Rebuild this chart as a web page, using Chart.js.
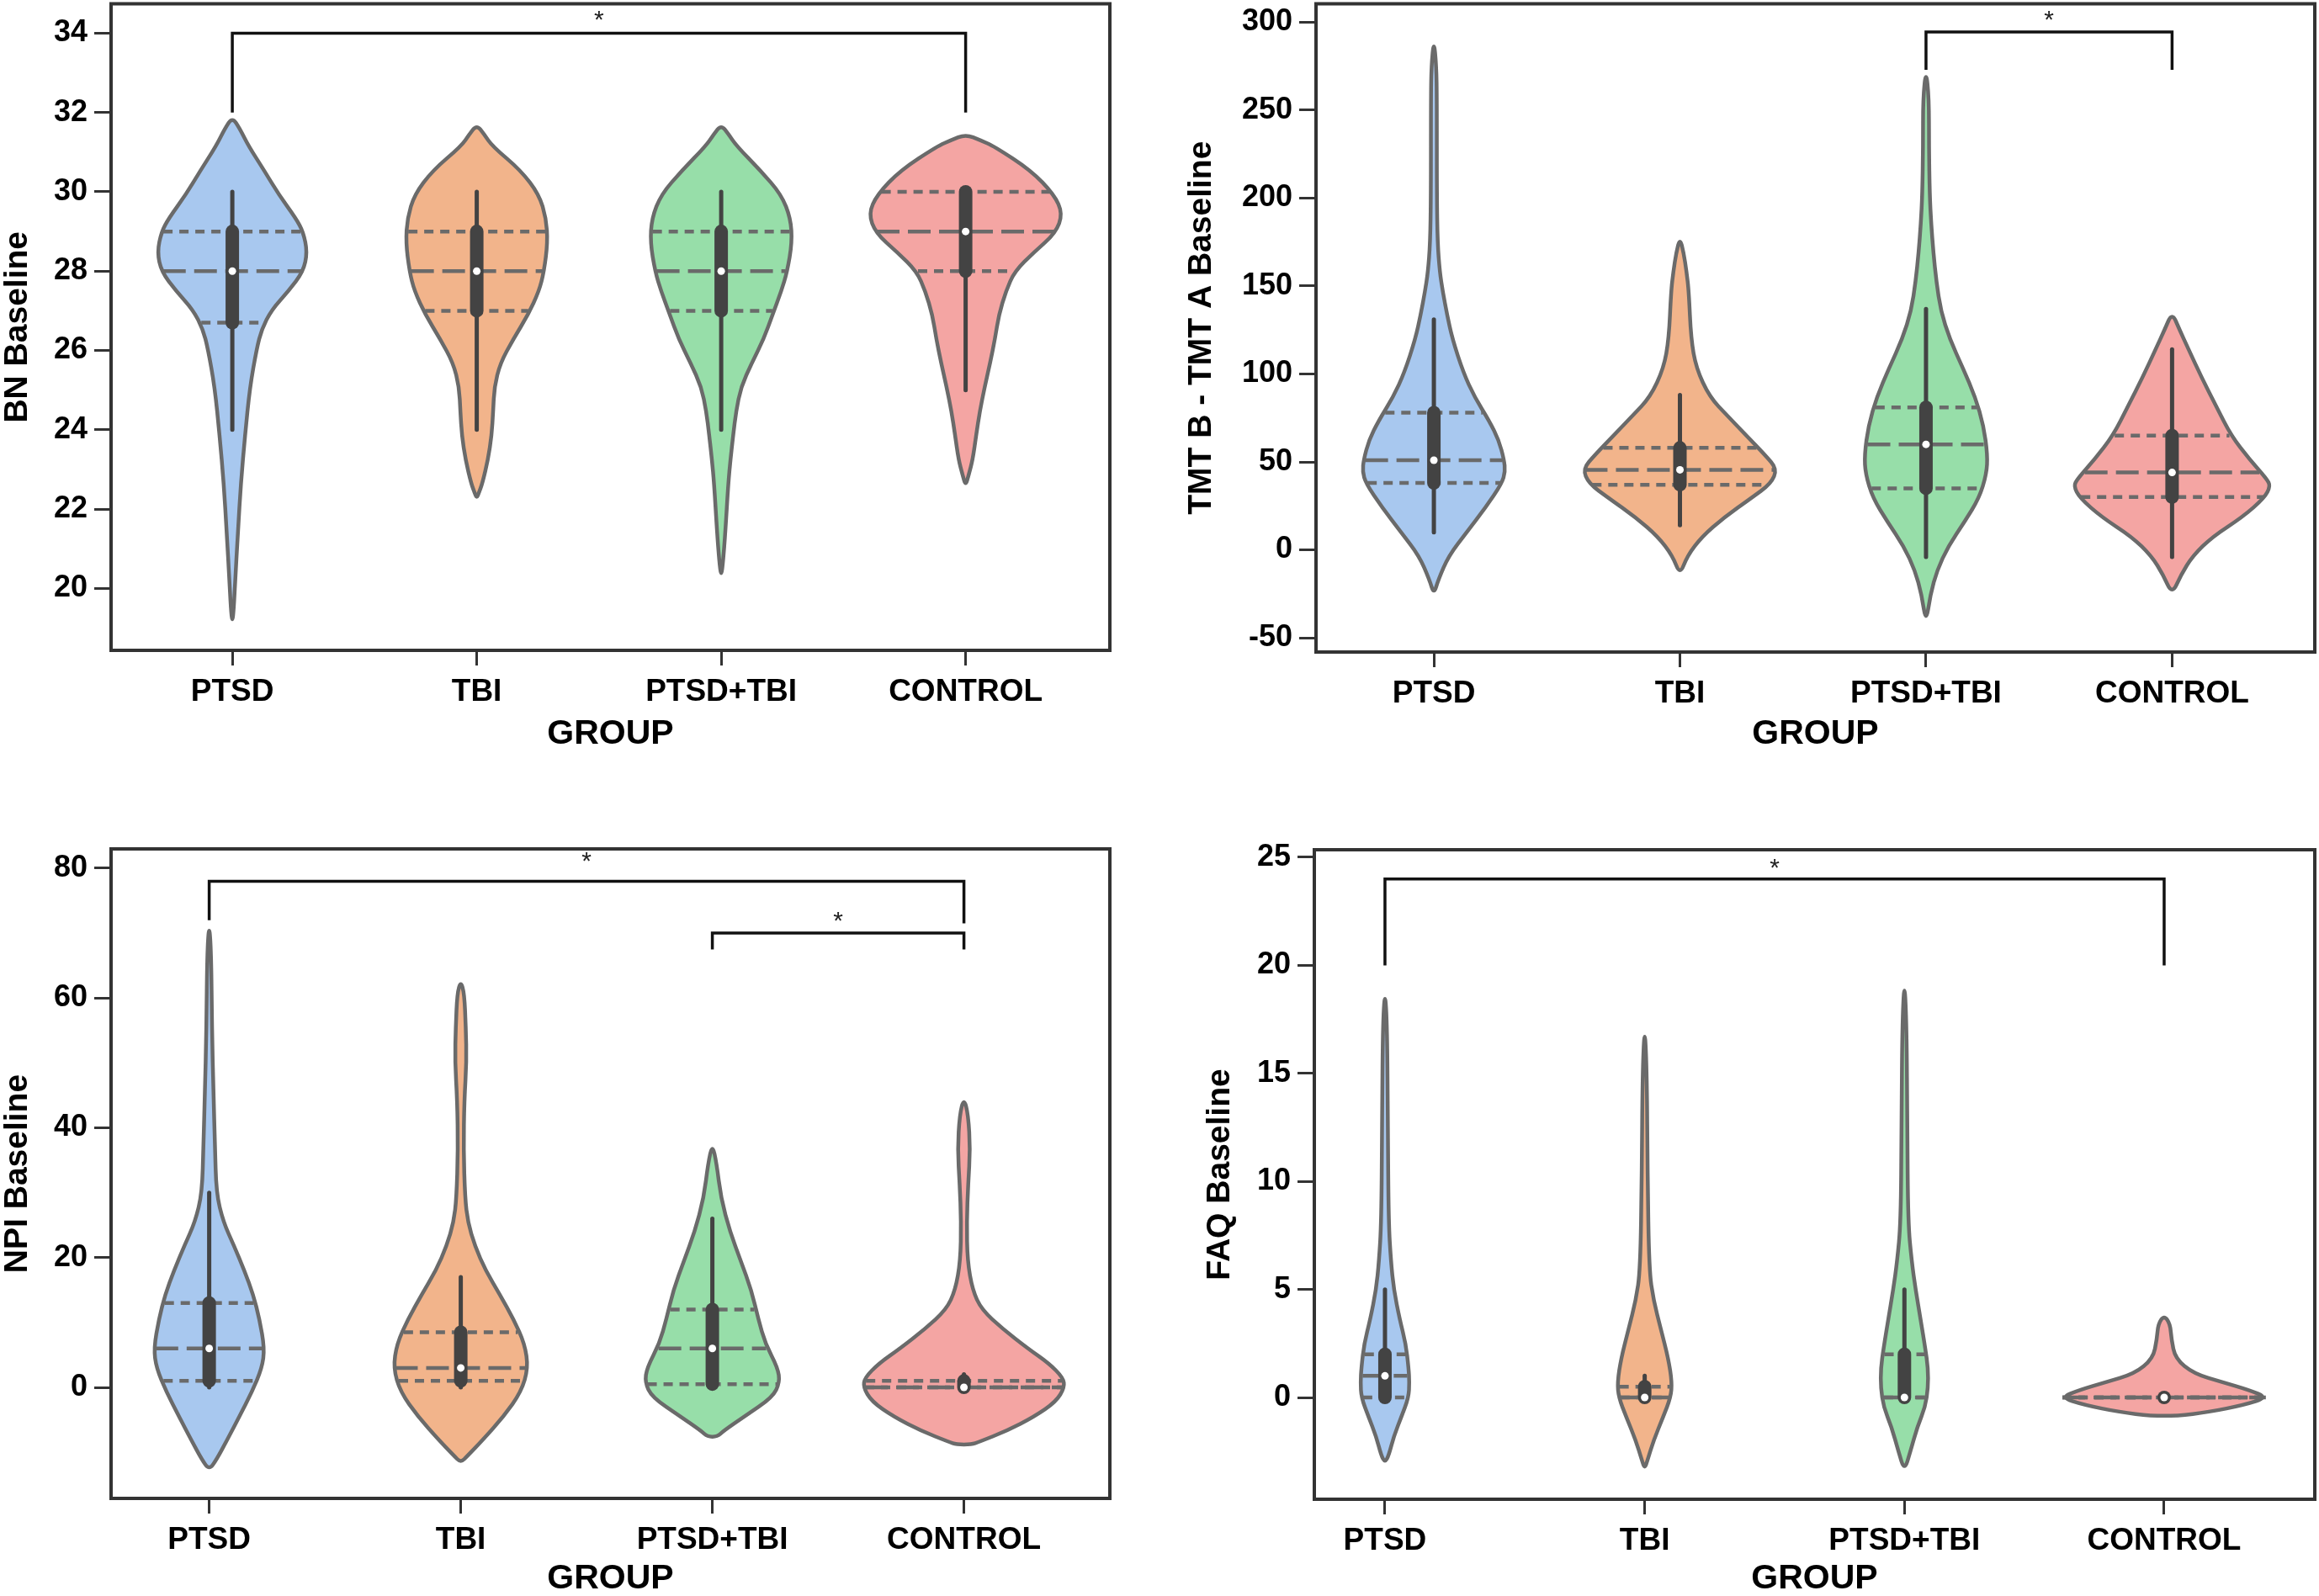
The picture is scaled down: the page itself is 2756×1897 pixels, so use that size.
<!DOCTYPE html>
<html><head><meta charset="utf-8">
<script src="https://cdn.jsdelivr.net/npm/chart.js@4.4.1/dist/chart.umd.min.js"></script>
<style>
html,body{margin:0;padding:0;background:#fff;}
body{width:2756px;height:1897px;position:relative;overflow:hidden;}
canvas{position:absolute;}
</style></head><body>
<canvas id="c1" width="1330" height="905" style="left:0px;top:0px"></canvas>
<canvas id="c2" width="1349" height="905" style="left:1407px;top:0px"></canvas>
<canvas id="c3" width="1330" height="930" style="left:0px;top:995px"></canvas>
<canvas id="c4" width="1327" height="930" style="left:1429px;top:995px"></canvas>
<script>
// ---------------- DATA ----------------
const groups = ['PTSD', 'TBI', 'PTSD+TBI', 'CONTROL'];
const groupPos = [0, 1, 2, 3];

// violin half-width profiles: [value, half width in category units], top to bottom
const bnProfiles = [
  [[31.88,0],[31.6,0.03],[31.15,0.067],[30.54,0.13],[29.93,0.19],[29.33,0.26],[28.99,0.29],[28.48,0.307],[27.99,0.29],[27.5,0.23],[27.02,0.16],[26.53,0.12],[26.05,0.10],[25.08,0.072],[23.86,0.052],[22.65,0.035],[21.43,0.023],[20.22,0.012],[19.5,0.006],[19.13,0]],
  [[31.69,0],[31.45,0.03],[31.15,0.064],[30.54,0.18],[29.93,0.255],[29.33,0.284],[28.72,0.29],[27.99,0.275],[27.5,0.255],[26.9,0.21],[26.29,0.15],[25.68,0.096],[25.08,0.072],[24.47,0.067],[23.86,0.061],[23.25,0.046],[22.65,0.023],[22.4,0.008],[22.28,0]],
  [[31.69,0],[31.45,0.03],[31.15,0.064],[30.54,0.16],[29.93,0.246],[29.33,0.284],[28.72,0.29],[27.99,0.27],[27.5,0.246],[26.9,0.21],[26.29,0.174],[25.68,0.125],[25.08,0.081],[24.47,0.061],[23.86,0.049],[23.25,0.038],[22.65,0.029],[21.43,0.017],[20.7,0.008],[20.28,0]],
  [[31.45,0],[31.3,0.06],[31.15,0.116],[30.54,0.267],[29.93,0.362],[29.45,0.397],[28.96,0.368],[28.48,0.28],[27.99,0.20],[27.5,0.165],[26.9,0.136],[26.29,0.12],[25.68,0.10],[25.08,0.078],[24.47,0.058],[23.86,0.043],[23.25,0.029],[22.85,0.012],[22.59,0]]
];
// [lower whisker, q1, median, q3, upper whisker]
const bnStats = [[24,26.7,28,29,30],[24,27,28,29,30],[24,27,28,29,30],[25,28,29,30,30]];
const bnYTicks = [20,22,24,26,28,30,32,34];
// [from group, to group, bar value, left leg end, right leg end, star value]
const bnBrackets = [[0,3,34,32,32,34.49]];

const tmtProfiles = [
  [[290,0],[275,0.01],[256.7,0.012],[202,0.012],[174.6,0.015],[158,0.024],[147,0.036],[133.5,0.054],[120,0.075],[100.7,0.12],[87,0.165],[73.3,0.225],[62.3,0.264],[51.4,0.285],[44.5,0.29],[37.7,0.276],[24,0.21],[10.3,0.135],[-3.4,0.06],[-17,0.018],[-25.3,0]],
  [[177.3,0],[169,0.015],[158,0.027],[147,0.036],[120,0.045],[103.4,0.066],[87,0.12],[76,0.195],[65,0.27],[54.1,0.345],[46,0.395],[37.7,0.37],[29.5,0.29],[18.5,0.18],[7.6,0.09],[-3.4,0.03],[-14.3,0]],
  [[273,0],[256.7,0.012],[229,0.012],[202,0.015],[185.5,0.021],[169,0.03],[152.7,0.042],[136,0.06],[120,0.096],[103.4,0.15],[87,0.20],[70.5,0.234],[54.1,0.25],[43.2,0.246],[29.5,0.216],[15.8,0.156],[2,0.09],[-11.6,0.045],[-25.3,0.018],[-41.7,0]],
  [[135,0],[125.3,0.03],[114.3,0.066],[98,0.12],[81.5,0.18],[65,0.24],[51.4,0.315],[40.4,0.384],[36.3,0.40],[29.5,0.375],[18.5,0.285],[7.6,0.165],[-3.4,0.084],[-14.3,0.036],[-25.3,0]]
];
const tmtStats = [[10,38,51,78,131],[14,37,45.5,58,88],[-4,35,60,81,137],[-4,30,44,65,114]];
const tmtYTicks = [-50,0,50,100,150,200,250,300];
const tmtBrackets = [[2,3,294.5,273,273,304.8]];

const npiProfiles = [
  [[71.6,0],[66.7,0.008],[55.5,0.011],[45,0.017],[37.5,0.023],[30,0.028],[25.5,0.056],[21.8,0.099],[18,0.14],[14.3,0.175],[10.5,0.20],[6,0.22],[3,0.21],[-0.7,0.17],[-4.5,0.12],[-8.2,0.07],[-11.2,0.028],[-12.7,0]],
  [[62.6,0],[60.7,0.014],[55.5,0.02],[50.2,0.023],[44.2,0.014],[36.7,0.011],[29.2,0.017],[25.5,0.028],[21.8,0.056],[18,0.099],[14.3,0.155],[10.5,0.21],[6.7,0.254],[3,0.268],[-0.7,0.24],[-4.5,0.17],[-8.2,0.085],[-10.5,0.028],[-11.6,0]],
  [[37.5,0],[34.5,0.017],[29.2,0.034],[24,0.07],[19.5,0.113],[15,0.155],[10.5,0.183],[6.8,0.21],[3,0.26],[0.8,0.268],[-1.5,0.24],[-4.5,0.127],[-6.7,0.045],[-7.6,0.02]],
  [[44.6,0],[42,0.017],[36.7,0.025],[31.5,0.017],[25.5,0.011],[19.5,0.014],[15,0.034],[12,0.07],[9,0.155],[6,0.254],[3.7,0.338],[1.5,0.394],[0,0.40],[-2.2,0.366],[-4.5,0.28],[-6.7,0.17],[-8.4,0.06],[-8.8,0.03]]
];
const npiStats = [[0,1,6,13,30],[0,1,3,8.5,17],[0,0.5,6,12,26],[0,0,0,1,2]];
const npiYTicks = [0,20,40,60,80];
const npiBrackets = [[0,3,78,72,71.5,82.1],[2,3,70,67.5,67.5,72.9]];

const faqProfiles = [
  [[18.9,0],[17.1,0.0085],[12.6,0.011],[8.1,0.014],[6.3,0.023],[5,0.034],[3.6,0.057],[2.5,0.08],[1.35,0.091],[0.7,0.094],[0,0.091],[-0.9,0.063],[-1.8,0.034],[-2.7,0.014],[-3,0]],
  [[17.3,0],[14.9,0.0085],[10.4,0.011],[5.9,0.017],[4.5,0.034],[3.15,0.0625],[1.8,0.091],[0.7,0.105],[0,0.10],[-0.9,0.071],[-2,0.034],[-2.9,0.011],[-3.3,0]],
  [[19.4,0],[17.1,0.0085],[12.6,0.011],[8.1,0.014],[6.3,0.028],[5,0.043],[3.6,0.0625],[2.3,0.08],[1.35,0.091],[0.45,0.091],[-0.45,0.08],[-1.35,0.05],[-2.5,0.023],[-3.4,0]],
  [[3.8,0],[3.4,0.023],[2.7,0.028],[1.8,0.043],[1.1,0.114],[0.7,0.227],[0.34,0.327],[0,0.398],[-0.34,0.31],[-0.68,0.17],[-0.85,0.05]]
];
const faqStats = [[0,0,1,2,5],[0,0,0,0.5,1],[0,0,0,2,5],[0,0,0,0,0]];
const faqYTicks = [0,5,10,15,20,25];
const faqBrackets = [[0,3,24,20,20,24.8]];

// ---------------- STYLE ----------------
const FONT = "'Liberation Sans', Arial, Helvetica, sans-serif";
const fills = ['#a8c8ef', '#f2b48b', '#97dea9', '#f4a5a3'];
const outline = '#6a6a6a';
const boxColor = '#434343';

function hwAt(prof, v) {
  for (let k = 0; k < prof.length - 1; k++) {
    const [v1, h1] = prof[k], [v2, h2] = prof[k + 1];
    if (v <= v1 && v >= v2) { const t = (v1 - v) / ((v1 - v2) || 1); return h1 + (h2 - h1) * t; }
  }
  return 0;
}
function smoothClosed(ctx, pts) {
  const n = pts.length;
  const mid = (a, b) => [(a[0] + b[0]) / 2, (a[1] + b[1]) / 2];
  const m = mid(pts[n - 1], pts[0]);
  ctx.beginPath(); ctx.moveTo(m[0], m[1]);
  for (let i = 0; i < n; i++) {
    const p = pts[i], q = pts[(i + 1) % n], mm = mid(p, q);
    ctx.quadraticCurveTo(p[0], p[1], mm[0], mm[1]);
  }
  ctx.closePath();
}

function violinPlugin(cfg) {
  return {
    id: 'violins',
    beforeDatasetsDraw(chart) {
      const { ctx, chartArea: a, scales: { x, y } } = chart;
      ctx.save();
      ctx.beginPath(); ctx.rect(a.left, a.top, a.right - a.left, a.bottom - a.top); ctx.clip();
      cfg.profiles.forEach((prof, i) => {
        const right = prof.map(([v, h]) => [x.getPixelForValue(i + h), y.getPixelForValue(v)]);
        const left = prof.slice().reverse().map(([v, h]) => [x.getPixelForValue(i - h), y.getPixelForValue(v)]);
        let pts = right.concat(left).filter((p, k, arr) => {
          const q = arr[(k + 1) % arr.length];
          return !(Math.abs(p[0] - q[0]) < 0.01 && Math.abs(p[1] - q[1]) < 0.01);
        });
        smoothClosed(ctx, pts);
        ctx.fillStyle = fills[i]; ctx.fill();
        ctx.lineWidth = 4.5; ctx.strokeStyle = outline; ctx.lineJoin = 'round'; ctx.stroke();
        // quartile dashed lines
        const st = cfg.stats[i];
        [[st[1], [11, 8]], [st[3], [11, 8]], [st[2], [27, 10]]].forEach(([v, dash]) => {
          const h = hwAt(prof, v);
          if (h <= 0) return;
          ctx.save();
          ctx.setLineDash(dash); ctx.lineWidth = 4.5; ctx.strokeStyle = outline; ctx.lineCap = 'butt';
          ctx.beginPath();
          ctx.moveTo(x.getPixelForValue(i - h) + 2, y.getPixelForValue(v));
          ctx.lineTo(x.getPixelForValue(i + h) - 2, y.getPixelForValue(v));
          ctx.stroke(); ctx.restore();
        });
        // whisker + box
        const px = x.getPixelForValue(i);
        ctx.strokeStyle = boxColor; ctx.lineCap = 'round';
        ctx.lineWidth = 5;
        ctx.beginPath(); ctx.moveTo(px, y.getPixelForValue(st[0])); ctx.lineTo(px, y.getPixelForValue(st[4])); ctx.stroke();
        ctx.lineWidth = 16;
        ctx.beginPath(); ctx.moveTo(px, y.getPixelForValue(st[1])); ctx.lineTo(px, y.getPixelForValue(st[3]) - 0.01); ctx.stroke();
      });
      ctx.restore();
    },
    afterDatasetsDraw(chart) {
      const { ctx, chartArea: a, scales: { x, y } } = chart;
      ctx.save();
      ctx.beginPath(); ctx.rect(a.left, a.top, a.right - a.left, a.bottom - a.top); ctx.clip();
      cfg.brackets.forEach(([g1, g2, bar, l1, l2, star]) => {
        ctx.strokeStyle = '#111'; ctx.lineWidth = 3.5; ctx.lineJoin = 'miter'; ctx.lineCap = 'butt';
        ctx.beginPath();
        ctx.moveTo(x.getPixelForValue(g1), y.getPixelForValue(l1));
        ctx.lineTo(x.getPixelForValue(g1), y.getPixelForValue(bar));
        ctx.lineTo(x.getPixelForValue(g2), y.getPixelForValue(bar));
        ctx.lineTo(x.getPixelForValue(g2), y.getPixelForValue(l2));
        ctx.stroke();
        ctx.fillStyle = '#222'; ctx.font = '30px ' + FONT; ctx.textAlign = 'center'; ctx.textBaseline = 'alphabetic';
        ctx.fillText('*', x.getPixelForValue((g1 + g2) / 2), y.getPixelForValue(star) + 17);
      });
      ctx.restore();
      ctx.save();
      ctx.strokeStyle = '#333'; ctx.lineWidth = 4;
      ctx.strokeRect(a.left, a.top, a.right - a.left, a.bottom - a.top);
      ctx.restore();
    }
  };
}

function zeroPad(s) { s.paddingTop = 0; s.paddingBottom = 0; s.paddingLeft = 0; s.paddingRight = 0; }

function makePanel(cfg) {
  const f = cfg.frame;
  const xH = cfg.xTitleY - f.b + 20.5;
  const padBottom = Math.max(0, cfg.h - f.b - xH);
  new Chart(document.getElementById(cfg.id), {
    type: 'scatter',
    data: { datasets: [{
      data: cfg.stats.map((s, i) => ({ x: groupPos[i], y: s[2] })),
      pointRadius: 4.5, pointHoverRadius: 4.5, pointBackgroundColor: '#ffffff', pointBorderWidth: 0
    }] },
    options: {
      responsive: false, animation: false, events: [],
      layout: { padding: { left: 0, top: f.t, right: cfg.w - f.r, bottom: padBottom } },
      plugins: { legend: { display: false }, tooltip: { enabled: false } },
      scales: {
        x: {
          type: 'linear', min: cfg.xMin, max: cfg.xMax,
          afterBuildTicks: s => { s.ticks = groupPos.map(v => ({ value: v })); },
          afterFit: s => { s.height = xH; zeroPad(s); },
          ticks: { callback: v => groups[v], font: { family: FONT, size: 37, weight: 'bold' }, color: '#000', padding: 10, autoSkip: false, maxRotation: 0, minRotation: 0 },
          grid: { display: true, drawOnChartArea: false, drawTicks: true, tickLength: 18, tickWidth: 3, tickColor: '#333' },
          border: { display: false },
          title: { display: true, text: 'GROUP', color: '#000', font: { family: FONT, size: 41, weight: 'bold', lineHeight: 1 }, padding: { top: 0, bottom: 0 } }
        },
        y: {
          type: 'linear', min: cfg.yMin, max: cfg.yMax,
          afterBuildTicks: s => { s.ticks = cfg.yTicks.map(v => ({ value: v })); },
          afterFit: s => { s.width = f.l; zeroPad(s); },
          ticks: { callback: v => String(v), font: { family: FONT, size: 36, weight: 'bold' }, color: '#000', padding: 8 },
          grid: { display: true, drawOnChartArea: false, drawTicks: true, tickLength: 20, tickWidth: 3, tickColor: '#333' },
          border: { display: false },
          title: { display: true, text: cfg.yTitle, color: '#000', font: { family: FONT, size: 39, weight: 'bold', lineHeight: 1 }, padding: { top: 1.5, bottom: 0 } }
        }
      }
    },
    plugins: [violinPlugin(cfg)]
  });
}

makePanel({ id: 'c1', w: 1330, h: 905, frame: { l: 132, r: 1319, t: 2, b: 773 }, xTitleY: 873,
  xMin: -0.496, xMax: 3.59, yMin: 18.44, yMax: 34.74, yTicks: bnYTicks, yTitle: 'BN Baseline',
  profiles: bnProfiles, stats: bnStats, brackets: bnBrackets });
makePanel({ id: 'c2', w: 1349, h: 905, frame: { l: 157, r: 1344, t: 2, b: 775 }, xTitleY: 873,
  xMin: -0.479, xMax: 3.58, yMin: -58.1, yMax: 310.5, yTicks: tmtYTicks, yTitle: 'TMT B - TMT A Baseline',
  profiles: tmtProfiles, stats: tmtStats, brackets: tmtBrackets });
makePanel({ id: 'c3', w: 1330, h: 930, frame: { l: 132, r: 1319, t: 14, b: 786 }, xTitleY: 882,
  xMin: -0.39, xMax: 3.58, yMin: -17.11, yMax: 82.98, yTicks: npiYTicks, yTitle: 'NPI Baseline',
  profiles: npiProfiles, stats: npiStats, brackets: npiBrackets });
makePanel({ id: 'c4', w: 1327, h: 930, frame: { l: 133, r: 1322, t: 15, b: 787 }, xTitleY: 882,
  xMin: -0.272, xMax: 3.58, yMin: -4.71, yMax: 25.35, yTicks: faqYTicks, yTitle: 'FAQ Baseline',
  profiles: faqProfiles, stats: faqStats, brackets: faqBrackets });
</script>
</body></html>
